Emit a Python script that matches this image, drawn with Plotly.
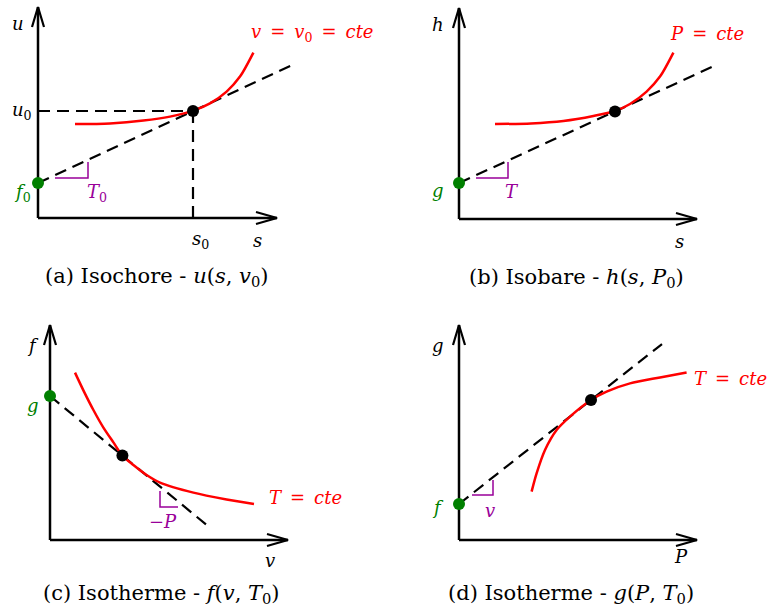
import plotly.graph_objects as go

W, H = 768, 614
PX = 20.0  # pixels per data unit in every panel

# ---------------- data (panel units, origin at axes corner) ----------------
# Panel (a) Isochore u(s, v0)
A_CURVE_X = [1.85, 3.6, 5.27, 6.6, 7.77, 8.6, 9.43, 10.1, 10.77]
A_CURVE_Y = [4.70, 4.73, 4.87, 5.07, 5.37, 5.73, 6.32, 7.07, 8.27]
A_POINT = (7.75, 5.35)
A_INTERCEPT = 1.75
A_TAN_END_X = 12.7

# Panel (b) Isobare h(s, P0)
B_CURVE_X = [1.8, 3.6, 5.22, 6.72, 7.8, 8.55, 9.38, 10.05, 10.72]
B_CURVE_Y = [4.75, 4.78, 4.9, 5.15, 5.4, 5.75, 6.37, 7.12, 8.32]
B_POINT = (7.8, 5.38)
B_INTERCEPT = 1.8
B_TAN_END_X = 12.65

# Panel (c) Isotherme f(v, T0)
C_CURVE_X = [1.25, 1.7, 2.17, 2.67, 3.17, 3.62, 4.17, 4.83, 5.5, 7.17, 8.83, 10.2]
C_CURVE_Y = [8.37, 7.42, 6.5, 5.62, 4.88, 4.22, 3.75, 3.25, 2.87, 2.37, 2.03, 1.8]
C_POINT = (3.62, 4.22)
C_INTERCEPT = 7.2
C_TAN_END_X = 7.9

# Panel (d) Isotherme g(P, T0)
D_CURVE_X = [3.63, 3.88, 4.3, 4.88, 5.55, 6.6, 7.38, 8.55, 10.05, 11.38]
D_CURVE_Y = [2.42, 3.33, 4.5, 5.5, 6.17, 7.0, 7.42, 7.83, 8.13, 8.38]
D_POINT = (6.6, 7.0)
D_INTERCEPT = 1.8
D_TAN_END_X = 10.15

# slope markers: (x_left, x_right, y_low, y_high)
A_SLOPE = (0.85, 2.5, 2.0, 2.8)
B_SLOPE = (0.85, 2.45, 2.05, 2.85)
C_SLOPE = (5.5, 6.4, 1.65, 2.45)
D_SLOPE = (0.65, 1.7, 2.25, 3.0)

# axis tips (x_tip, y_tip)
A_TIPS = (11.95, 10.55)
B_TIPS = (11.9, 10.55)
C_TIPS = (11.9, 10.75)
D_TIPS = (11.9, 10.75)

SP = "\u2002"  # wide math space around '='
CAPTIONS = [
    "(a) Isochore - <i>u</i>(<i>s</i>, <i>v</i><sub>0</sub>)",
    "(b) Isobare - <i>h</i>(<i>s</i>, <i>P</i><sub>0</sub>)",
    "(c) Isotherme - <i>f</i>(<i>v</i>, <i>T</i><sub>0</sub>)",
    "(d) Isotherme - <i>g</i>(<i>P</i>, <i>T</i><sub>0</sub>)",
]

# ---------------- layout helpers ----------------
XR = [-1.5, 14.5]
YR = [-3.2, 10.85]
ORIGINS = [(38, 218), (459, 219), (50, 540), (459, 540)]  # pixel position of each origin

RED = "#ff0000"
GREEN = "#008000"
PURPLE = "#990099"
FONT = "DejaVu Serif"

fig = go.Figure()
layout = dict(width=W, height=H, margin=dict(l=0, r=0, t=0, b=0),
              paper_bgcolor="white", plot_bgcolor="rgba(0,0,0,0)",
              showlegend=False)

for i, (ox, oy) in enumerate(ORIGINS):
    n = "" if i == 0 else str(i + 1)
    xd = [(ox + XR[0] * PX) / W, (ox + XR[1] * PX) / W]
    yd = [1 - (oy - YR[0] * PX) / H, 1 - (oy - YR[1] * PX) / H]
    layout["xaxis" + n] = dict(domain=xd, range=XR, visible=False, fixedrange=True,
                               anchor="y" + n)
    layout["yaxis" + n] = dict(domain=yd, range=YR, visible=False, fixedrange=True,
                               anchor="x" + n)
fig.update_layout(**layout)

annotations = []


def ax_ref(i):
    n = "" if i == 0 else str(i + 1)
    return "x" + n, "y" + n


def line(i, xs, ys, color="black", width=2.5, dash=None, shape="linear"):
    xr, yr = ax_ref(i)
    fig.add_trace(go.Scatter(x=xs, y=ys, mode="lines", xaxis=xr, yaxis=yr,
                             line=dict(color=color, width=width, dash=dash, shape=shape,
                                       smoothing=0.8),
                             hoverinfo="skip"))


def dot(i, x, y, color):
    xr, yr = ax_ref(i)
    fig.add_trace(go.Scatter(x=[x], y=[y], mode="markers", xaxis=xr, yaxis=yr,
                             marker=dict(color=color, size=12), cliponaxis=False,
                             hoverinfo="skip"))


def label(i, x, y, text, color="black", size=18, xanchor="center", yanchor="middle"):
    xr, yr = ax_ref(i)
    annotations.append(dict(x=x, y=y, xref=xr, yref=yr, text=text, showarrow=False,
                            xanchor=xanchor, yanchor=yanchor,
                            font=dict(family=FONT, size=size, color=color)))


def axes(i, tips):
    xt, yt = tips
    line(i, [0, 0], [0, yt], width=2.5)
    line(i, [0, xt], [0, 0], width=2.5)
    # open arrow heads
    line(i, [-0.3, 0, 0.3], [yt - 1.0, yt, yt - 1.0], width=2.2)
    line(i, [xt - 1.05, xt, xt - 1.05], [0.3, 0, -0.3], width=2.2)


def tangent(i, intercept, point, end_x, start_x=0.0):
    slope = (point[1] - intercept) / point[0]
    line(i, [start_x, end_x], [intercept + slope * start_x, intercept + slope * end_x],
         width=2.2, dash="12px,7px")


def slope_mark(i, s, vertical_left=False):
    x0, x1, y0, y1 = s
    if vertical_left:
        line(i, [x0, x0, x1], [y1, y0, y0], color=PURPLE, width=1.5)
    else:
        line(i, [x0, x1, x1], [y0, y0, y1], color=PURPLE, width=1.5)


# ---------------- panel (a) ----------------
axes(0, A_TIPS)
line(0, [0, A_POINT[0]], [A_POINT[1], A_POINT[1]], width=2.2, dash="12px,7px")
line(0, [A_POINT[0], A_POINT[0]], [A_POINT[1], 0], width=2.2, dash="12px,7px")
tangent(0, A_INTERCEPT, A_POINT, A_TAN_END_X)
line(0, A_CURVE_X, A_CURVE_Y, color=RED, width=2.5, shape="spline")
slope_mark(0, A_SLOPE)
dot(0, A_POINT[0], A_POINT[1], "black")
dot(0, 0, A_INTERCEPT, GREEN)
label(0, -1.0, 9.75, "<i>u</i>")
label(0, -0.2, A_POINT[1], "<i>u</i><sub>0</sub>", xanchor="right")
label(0, -0.25, 1.25, "<i>f</i><sub>0</sub>", color=GREEN, xanchor="right")
label(0, 2.95, 1.25, "<i>T</i><sub>0</sub>", color=PURPLE)
label(0, A_POINT[0] + 0.35, -1.1, "<i>s</i><sub>0</sub>")
label(0, 10.95, -1.1, "<i>s</i>")
label(0, 13.7, 9.25, f"<i>v</i>{SP}={SP}<i>v</i><sub>0</sub>{SP}={SP}<i>cte</i>", color=RED)

# ---------------- panel (b) ----------------
axes(1, B_TIPS)
tangent(1, B_INTERCEPT, B_POINT, B_TAN_END_X)
line(1, B_CURVE_X, B_CURVE_Y, color=RED, width=2.5, shape="spline")
slope_mark(1, B_SLOPE)
dot(1, B_POINT[0], B_POINT[1], "black")
dot(1, 0, B_INTERCEPT, GREEN)
label(1, -1.05, 9.75, "<i>h</i>")
label(1, -1.05, 1.45, "<i>g</i>", color=GREEN)
label(1, 2.65, 1.4, "<i>T</i>", color=PURPLE)
label(1, 11.0, -1.1, "<i>s</i>")
label(1, 12.4, 9.3, f"<i>P</i>{SP}={SP}<i>cte</i>", color=RED)

# ---------------- panel (c) ----------------
axes(2, C_TIPS)
tangent(2, C_INTERCEPT, C_POINT, C_TAN_END_X)
line(2, C_CURVE_X, C_CURVE_Y, color=RED, width=2.5, shape="spline")
slope_mark(2, C_SLOPE, vertical_left=True)
dot(2, C_POINT[0], C_POINT[1], "black")
dot(2, 0, C_INTERCEPT, GREEN)
label(2, -0.85, 9.75, "<i>f</i>")
label(2, -0.85, 6.75, "<i>g</i>", color=GREEN)
label(2, 5.65, 0.95, "−<i>P</i>", color=PURPLE)
label(2, 11.0, -1.0, "<i>v</i>")
label(2, 12.75, 2.15, f"<i>T</i>{SP}={SP}<i>cte</i>", color=RED)

# ---------------- panel (d) ----------------
axes(3, D_TIPS)
tangent(3, D_INTERCEPT, D_POINT, D_TAN_END_X)
line(3, D_CURVE_X, D_CURVE_Y, color=RED, width=2.5, shape="spline")
slope_mark(3, D_SLOPE)
dot(3, D_POINT[0], D_POINT[1], "black")
dot(3, 0, D_INTERCEPT, GREEN)
label(3, -1.05, 9.75, "<i>g</i>")
label(3, -1.05, 1.65, "<i>f</i>", color=GREEN)
label(3, 1.55, 1.5, "<i>v</i>", color=PURPLE)
label(3, 11.1, -0.8, "<i>P</i>")
label(3, 13.55, 8.1, f"<i>T</i>{SP}={SP}<i>cte</i>", color=RED)

# ---------------- captions (positioned below each panel) ----------------
CAP_POS = [(156, 277), (576, 278), (161, 594), (571, 594)]
for i, (cx, cy) in enumerate(CAP_POS):
    ox, oy = ORIGINS[i]
    label(i, (cx - ox) / PX, (oy - cy) / PX, CAPTIONS[i], size=21)

fig.update_layout(annotations=annotations)
fig.write_html("out.html")
